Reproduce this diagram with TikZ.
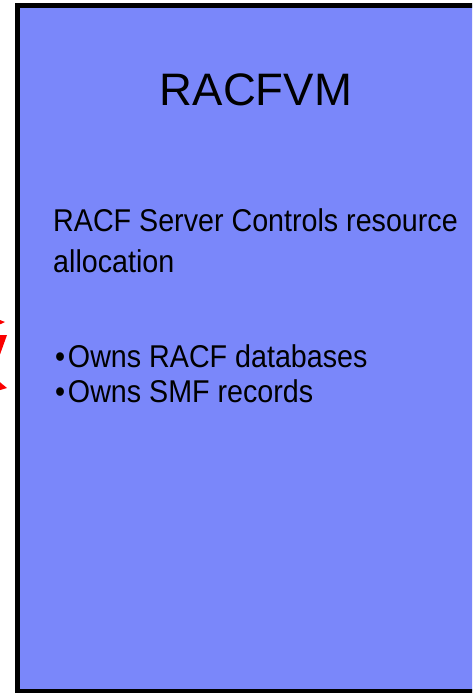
\documentclass[tikz,border=0pt]{standalone}
\usepackage{fontspec}
\setmainfont{Liberation Sans}
\definecolor{boxblue}{RGB}{122,135,250}
\definecolor{boltred}{RGB}{250,0,0}
\newcommand{\sq}[1]{\scalebox{0.91}[1]{#1}}
\begin{document}
\begin{tikzpicture}[x=1pt,y=-1pt,
  txt/.style={inner sep=0pt,anchor=base west,font=\fontsize{31.5}{36}\selectfont},
  ttl/.style={inner sep=0pt,anchor=base,font=\fontsize{45.5}{50}\selectfont}]
\useasboundingbox (0,0) rectangle (472,693);
\begin{scope}
\clip (0,0) rectangle (472,693);
\fill[white] (0,0) rectangle (472,693);
\draw[line width=5pt,fill=boxblue] (17,5.5) rectangle (490,691);
% red bolt tips, cut off at left edge
\fill[boltred] (-10,316) -- (5,322) -- (-10,329) -- cycle;
\fill[boltred] (-10,335) -- (7,335) -- (-2,360) -- cycle;
\fill[boltred] (-10,374) -- (7,388) -- (-10,393) -- cycle;
\end{scope}
\node[ttl] (title) at (256,105) {RACFVM};
\node[txt] (l1) at (53,231) {\sq{RACF Server Controls resource}};
\node[txt] (l2) at (53,272) {\sq{allocation}};
\node[txt] (b1) at (55,367) {\sq{\textbullet\hspace{3pt}Owns RACF databases}};
\node[txt] (b2) at (55,402) {\sq{\textbullet\hspace{3pt}Owns SMF records}};
\end{tikzpicture}
\end{document}
